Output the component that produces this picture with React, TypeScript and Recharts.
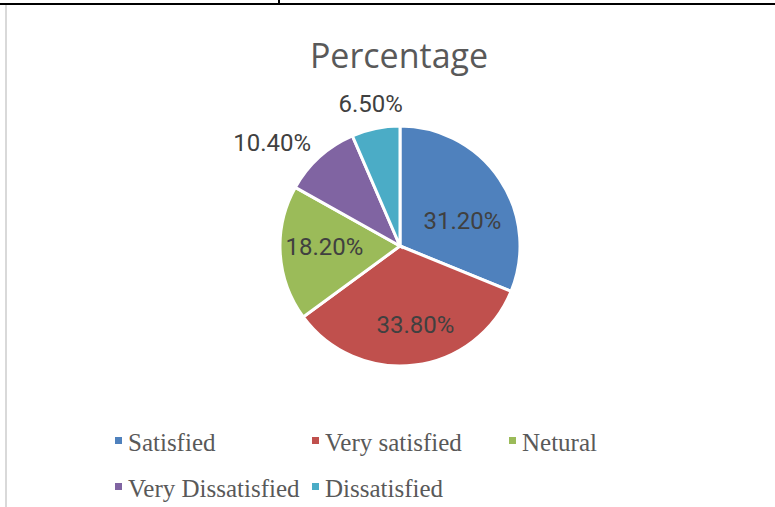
import { PieChart, Pie, Cell, Legend } from "recharts";

const CATEGORIES = ["Satisfied", "Very satisfied", "Netural", "Very Dissatisfied", "Dissatisfied"];
const PERCENTAGES = [31.2, 33.8, 18.2, 10.4, 6.5];
const COLORS = ["#4f81bd", "#c0504d", "#9bbb59", "#8064a2", "#4bacc6"];

const data = CATEGORIES.map((name, i) => ({ name, value: PERCENTAGES[i] }));

// label distance (as fraction of outer radius) and angle tweak, Excel "best fit"-ish
const LABEL_R = [0.56, 0.67, 0.63, 1.37, 1.21];
const LABEL_DA = [-12, 4, -3, 9, 0];
const RAD = Math.PI / 180;

function renderLabel(props: any) {
  const { cx, cy, midAngle, outerRadius, index, value } = props;
  const r = outerRadius * LABEL_R[index];
  const a = (midAngle + LABEL_DA[index]) * RAD;
  const x = cx + r * Math.cos(a);
  const y = cy - r * Math.sin(a);
  return (
    <text
      x={x}
      y={y}
      textAnchor="middle"
      dominantBaseline="central"
      fill="#404040"
      fontSize={24}
      fontFamily="Roboto, sans-serif"
    >
      {value.toFixed(2)}%
    </text>
  );
}

function renderLegend() {
  return (
    <div style={{ display: "flex", flexWrap: "wrap", width: 620, paddingLeft: 115 }}>
      {CATEGORIES.map((c, i) => (
        <div
          key={c}
          style={{ width: 197, height: 46, display: "flex", alignItems: "center", whiteSpace: "nowrap" }}
        >
          <span style={{ width: 7, height: 7, background: COLORS[i], marginRight: 6, marginTop: -6 }} />
          <span style={{ fontFamily: "'Liberation Serif', serif", fontSize: 25, color: "#595959" }}>{c}</span>
        </div>
      ))}
    </div>
  );
}

export default function App() {
  return (
    <div style={{ position: "fixed", left: 0, top: 0, width: 775, height: 507, background: "#fff", overflow: "hidden" }}>
      <div style={{ position: "absolute", left: 0, top: 3, width: 775, height: 2, background: "#000" }} />
      <div style={{ position: "absolute", left: 278, top: 0, width: 2, height: 4, background: "#000" }} />
      <div style={{ position: "absolute", left: 5, top: 5, width: 2, height: 502, background: "#d9d9d9" }} />
      <div
        style={{
          position: "absolute",
          left: 0,
          top: 32,
          width: 798,
          textAlign: "center",
          fontFamily: "'Open Sans', sans-serif",
          fontSize: 34,
          color: "#595959",
        }}
      >
        Percentage
      </div>
      <PieChart
        width={775}
        height={507}
        margin={{ top: 0, right: 0, bottom: 0, left: 0 }}
        style={{ position: "absolute", left: 0, top: 0 }}
      >
        <Pie
          data={data}
          dataKey="value"
          nameKey="name"
          cx={400}
          cy={246}
          outerRadius={120}
          startAngle={90}
          endAngle={-270}
          stroke="#fff"
          strokeWidth={3}
          label={renderLabel}
          labelLine={false}
          isAnimationActive={false}
        >
          {data.map((d, i) => (
            <Cell key={d.name} fill={COLORS[i]} />
          ))}
        </Pie>
        <Legend content={renderLegend} wrapperStyle={{ left: 0, top: 420, width: 775 }} />
      </PieChart>
    </div>
  );
}
